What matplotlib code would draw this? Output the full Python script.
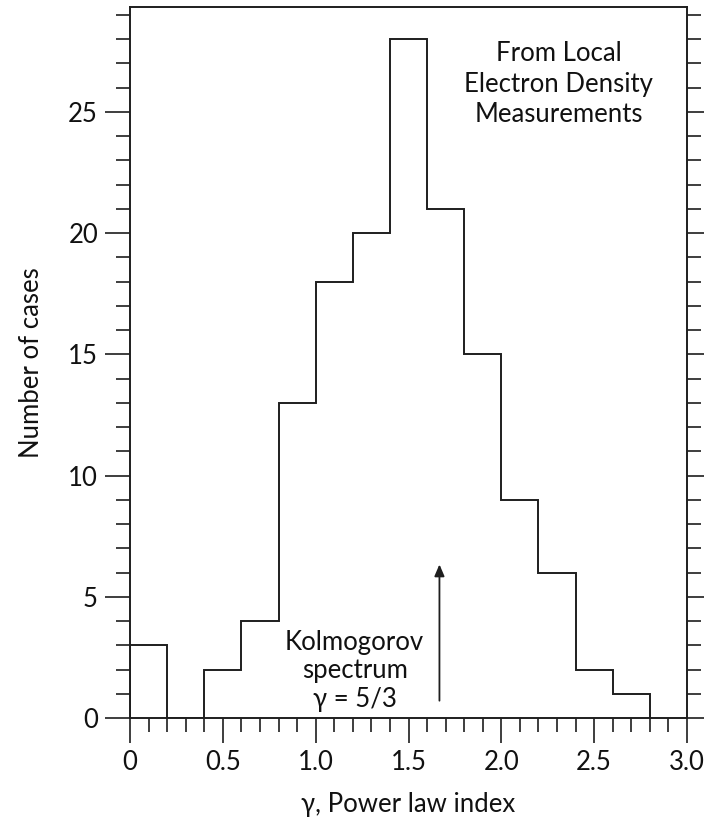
import matplotlib
matplotlib.use("Agg")
import matplotlib.pyplot as plt
from matplotlib.ticker import MultipleLocator

plt.rcParams["font.family"] = ["Lato", "DejaVu Sans"]

# power law index bins (width 0.2) and number of cases in each
bin_edges = [0.0, 0.2, 0.4, 0.6, 0.8, 1.0, 1.2, 1.4, 1.6, 1.8, 2.0, 2.2, 2.4, 2.6, 2.8]
counts = [3, 0, 2, 4, 13, 18, 20, 28, 21, 15, 9, 6, 2, 1]
kolmogorov_gamma = 5 / 3

fig = plt.figure(figsize=(7.04, 8.18), dpi=100)
ax = fig.add_axes([130 / 704, 100 / 818, 557 / 704, 711 / 818])

ink = "#1e1e1e"
txt = "#111111"
fs = 18.5
ax.stairs(counts, bin_edges, baseline=0, color=ink, lw=1.4)

ax.set_xlim(0, 3.0)
ax.set_ylim(0, 29.33)
ax.xaxis.set_minor_locator(MultipleLocator(0.1))
ax.yaxis.set_major_locator(MultipleLocator(5))
ax.yaxis.set_minor_locator(MultipleLocator(1))
ax.set_xticks([0, 0.5, 1.0, 1.5, 2.0, 2.5, 3.0])
ax.set_xticklabels(["0", "0.5", "1.0", "1.5", "2.0", "2.5", "3.0"])

ax.tick_params(which="both", direction="out", color=ink, width=1.2,
               labelsize=fs, labelcolor=txt, right=True, top=False)
ax.tick_params(which="major", length=18, pad=5)
ax.tick_params(which="minor", length=10)
for s in ax.spines.values():
    s.set_color(ink)
    s.set_linewidth(1.4)

ax.set_xlabel("γ, Power law index", fontsize=fs, color=txt, va="baseline")
ax.xaxis.set_label_coords(0.5, -0.132)
ax.set_ylabel("Number of cases", fontsize=fs, color=txt, va="center")
ax.yaxis.set_label_coords(-0.176, 0.5)

ax.text(0.77, 0.838, "From Local\nElectron Density\nMeasurements",
        transform=ax.transAxes, ha="center", va="baseline", fontsize=fs,
        color=txt, linespacing=1.28)
ax.text(1.21, 0.45, "Kolmogorov\nspectrum\nγ = 5/3", ha="center", va="baseline",
        fontsize=fs, color=txt, linespacing=1.18)

ax.annotate("", xy=(kolmogorov_gamma, 6.45), xytext=(kolmogorov_gamma, 0.6),
            arrowprops=dict(arrowstyle="-|>,head_width=0.3,head_length=0.7",
                            color=ink, lw=1.3))

fig.savefig("out.png", dpi=100)
